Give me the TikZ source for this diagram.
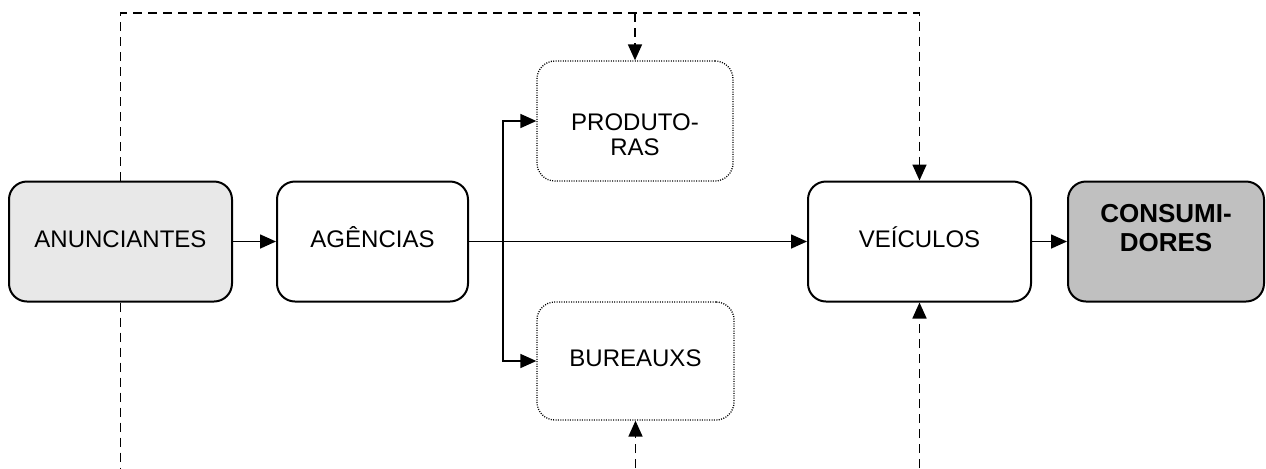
\documentclass[tikz,border=0pt]{standalone}
\usepackage{fontspec}
\setmainfont{Liberation Sans}
\usetikzlibrary{arrows.meta}

\definecolor{anunfill}{HTML}{E8E8E8}
\definecolor{consfill}{HTML}{C0C0C0}

\begin{document}
\begin{tikzpicture}[
  x=0.5pt, y=-0.5pt,
  font=\fontsize{12}{12.5}\selectfont,
  box/.style={
    draw=black,
    line width=1pt,
    rounded corners=9pt,
    minimum height=60pt,
    inner xsep=2pt,
    inner ysep=0pt,
    text height=8.6pt,
    text depth=3pt,
    align=center
  },
  ghostbox/.style={
    box,
    line width=0.65pt,
    dash pattern=on 0.5pt off 0.7pt
  },
  link/.style={
    draw=black,
    line width=0.85pt,
    -{Triangle[length=8pt, width=7pt]}
  },
  dashlink/.style={
    link,
    dash pattern=on 4.5pt off 3pt
  }
]

  \useasboundingbox (0,0) rectangle (1266,468);

  % --------------------------------------------------------------------
  % Boxes
  % --------------------------------------------------------------------

  \node[box, fill=anunfill, minimum width=111.5pt] (anun) at (120.5,241.5) {ANUNCIANTES};
  \node[box, minimum width=95.5pt] (agen) at (372.5,241.5) {AGÊNCIAS};
  \node[
    ghostbox,
    minimum width=98pt,
    text height=47pt,
    text depth=13pt
  ] (prod) at (635,121) {PRODUTO-\\RAS};
  \node[ghostbox, minimum width=98.5pt, minimum height=59pt] (bure) at (635.5,361) {BUREAUXS};
  \node[box, minimum width=111.5pt] (veic) at (919.5,241.5) {VEÍCULOS};
  \node[
    box,
    fill=consfill,
    minimum width=98pt,
    font=\bfseries\fontsize{13}{14.5}\selectfont,
    text height=35pt,
    text depth=25pt
  ] (cons) at (1166,241.5) {CONSUMI-\\DORES};

  % --------------------------------------------------------------------
  % Main flow
  % --------------------------------------------------------------------

  \coordinate (split) at (503,241.5);
  \coordinate (ceil) at (0,13);
  \coordinate (floor) at (0,468);

  \draw[link] (anun) -- (agen);
  \draw[link] (agen) -- (veic);
  \draw[link] (veic) -- (cons);
  \draw[link] (split) |- (prod);
  \draw[link] (split) |- (bure);

  % --------------------------------------------------------------------
  % Dashed links
  % --------------------------------------------------------------------

  \draw[dashlink] (anun) -- (anun |- ceil) -| (veic);
  \draw[dashlink] (prod |- ceil) -- (prod);
  \draw[dashlink, -] (anun) -- (anun |- floor);
  \draw[dashlink] (bure |- floor) -- (bure);
  \draw[dashlink] (veic |- floor) -- (veic);

\end{tikzpicture}
\end{document}
